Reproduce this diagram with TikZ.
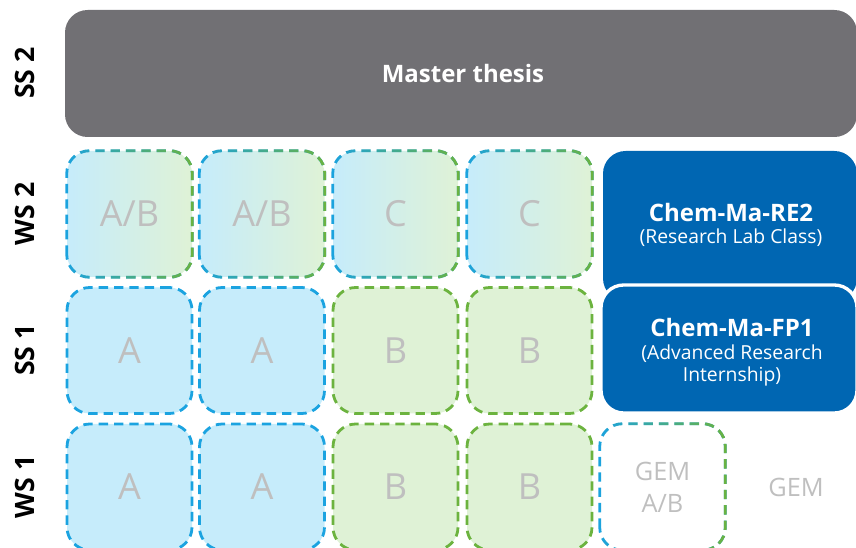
\documentclass[tikz,border=0pt]{standalone}
\usepackage{fontspec}
\setmainfont{Open Sans}
\usetikzlibrary{fadings}
\definecolor{dashblue}{HTML}{1BA3E0}
\definecolor{dashgreen}{HTML}{6CB33F}
\definecolor{fillblue}{HTML}{C6ECFB}
\definecolor{fillgreen}{HTML}{DFF2D6}
\definecolor{thesisgray}{HTML}{717074}
\definecolor{darkblue}{HTML}{0066B2}
\definecolor{lettergray}{HTML}{BFBFBF}
\tikzfading[name=fadeR, left color=transparent!100, right color=transparent!0]
\begin{document}
\begin{tikzpicture}[x=0.75pt,y=-0.75pt,
  dashline/.style={line width=2.1pt, dash pattern=on 7pt off 4.5pt},
  cell/.style={rectangle, rounded corners=17pt, minimum width=93.75pt, minimum height=94.5pt, inner sep=0pt,
     text=lettergray, font=\fontsize{27}{30}\selectfont},
  bluecell/.style={cell, fill=fillblue, draw=dashblue, dashline},
  greencell/.style={cell, fill=fillgreen, draw=dashgreen, dashline},
  mixcell/.style={cell, left color=fillblue, right color=fillgreen},
  bdash/.style={draw=dashblue, dashline, rounded corners=17pt},
  gdash/.style={draw=dashgreen, dashline, rounded corners=17pt, path fading=fadeR},
  semlabel/.style={rotate=90, font=\bfseries\fontsize{20}{24}\selectfont, text=black},
  bigtitle/.style={anchor=base, font=\bfseries\fontsize{18}{20}\selectfont, text=white},
  subtitle/.style={anchor=base, font=\fontsize{14.5}{17}\selectfont, text=white},
]
\useasboundingbox (0,0) rectangle (856,548);
\begin{scope}
\clip (0,0) rectangle (856,548);
% semester labels
\node[semlabel] (lss2) at (25,73) {SS 2};
\node[semlabel] (lws2) at (25,214) {WS 2};
\node[semlabel] (lss1) at (25,350) {SS 1};
\node[semlabel] (lws1) at (25,487) {WS 1};
% master thesis
\node[rectangle, rounded corners=17pt, fill=thesisgray, minimum width=594pt, minimum height=95.25pt, inner sep=0pt] (thesis) at (461,73.5) {};
\node[anchor=base, font=\bfseries\fontsize{18}{20}\selectfont, text=white] (thesist) at (463,83) {Master thesis};
% WS2 row: mixed cells
\foreach \n/\cx/\t in {ma/129.5/A\slash B, mb/262/A\slash B, mc/395.5/C, md/529.5/C}{
  \node[mixcell] (\n) at (\cx,214) {\t};
  \draw[bdash] (\n.south west) rectangle (\n.north east);
  \draw[gdash] (\n.south west) rectangle (\n.north east);
}
% SS1 row
\node[bluecell] (sa) at (129.5,350.5) {A};
\node[bluecell] (sb) at (262,350.5) {A};
\node[greencell] (sc) at (395.5,350.5) {B};
\node[greencell] (sd) at (529.5,350.5) {B};
% WS1 row
\node[bluecell] (wa) at (129.5,487) {A};
\node[bluecell] (wb) at (262,487) {A};
\node[greencell] (wc) at (395.5,487) {B};
\node[greencell] (wd) at (529.5,487) {B};
% GEM A/B
\node[cell, font=\fontsize{19}{24}\selectfont, align=center] (gemab) at (662.5,487) {GEM\\A\slash B};
\draw[bdash] (gemab.south west) rectangle (gemab.north east);
\draw[gdash] (gemab.south west) rectangle (gemab.north east);
\node[text=lettergray, font=\fontsize{19}{24}\selectfont] (gem) at (796,487) {GEM};
% research modules
\node[rectangle, rounded corners=17pt, fill=darkblue, minimum width=190.5pt, minimum height=112.5pt, inner sep=0pt] (re2) at (730,226) {};
\node[bigtitle] (re2t) at (731,222) {Chem-Ma-RE2};
\node[subtitle] (re2s) at (731,244) {(Research Lab Class)};
\node[rectangle, rounded corners=17pt, fill=darkblue, draw=white, line width=2.5pt, minimum width=192pt, minimum height=96pt, inner sep=0pt] (fp1) at (729,349) {};
\node[bigtitle] (fp1t) at (732,337) {Chem-Ma-FP1};
\node[subtitle] (fp1s) at (732,360) {(Advanced Research};
\node[subtitle] (fp1u) at (732,382) {Internship)};
\end{scope}
\end{tikzpicture}
\end{document}
